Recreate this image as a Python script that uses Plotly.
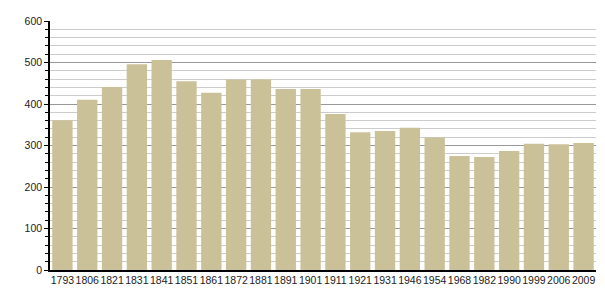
import plotly.graph_objects as go

years = ["1793", "1806", "1821", "1831", "1841", "1851", "1861", "1872", "1881", "1891", "1901",
         "1911", "1921", "1931", "1946", "1954", "1968", "1982", "1990", "1999", "2006", "2009"]
population = [361, 410, 441, 496, 506, 455, 427, 459, 459, 436, 436,
              376, 332, 335, 343, 319, 275, 272, 287, 304, 303, 306]

fig = go.Figure(go.Bar(x=years, y=population, marker=dict(color="#CBC199", line=dict(width=0)),
                       hoverinfo="x+y"))

fig.update_layout(
    width=605, height=300,
    margin=dict(l=50, r=9, t=21, b=30),
    paper_bgcolor="white", plot_bgcolor="white",
    bargap=0.18,
    showlegend=False,
    font=dict(family="Liberation Sans, Arial, sans-serif", size=10.5, color="#222"),
)
fig.update_xaxes(
    type="category", showline=True, linecolor="black", linewidth=1.5,
    ticks="", showgrid=False, tickfont=dict(size=10.5), tickangle=0,
)
fig.update_yaxes(
    range=[0, 600], dtick=100, showline=True, linecolor="black", linewidth=1.5,
    ticks="outside", ticklen=4, tickcolor="black",
    showgrid=True, gridcolor="#999999", gridwidth=1,
    minor=dict(dtick=20, showgrid=True, gridcolor="#cccccc", ticks="outside", ticklen=3, tickcolor="black"),
    zeroline=False, tickfont=dict(size=10.5),
)

fig.write_html("out.html")
